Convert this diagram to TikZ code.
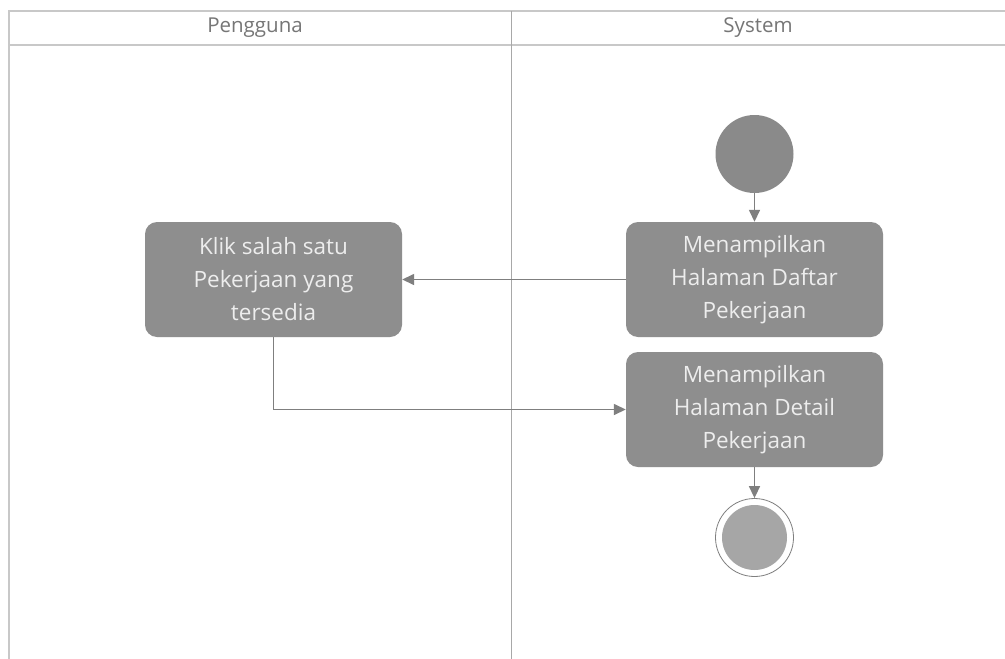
\documentclass[tikz,border=0pt]{standalone}
\usepackage{fontspec}
\setmainfont{Open Sans}
\usetikzlibrary{arrows.meta}
\definecolor{boxfill}{HTML}{8E8E8E}
\definecolor{startfill}{HTML}{8A8A8A}
\definecolor{endfill}{HTML}{A6A6A6}
\definecolor{linecol}{HTML}{7F7F7F}
\definecolor{frame}{HTML}{C8C8C8}
\definecolor{divcol}{HTML}{A8A8A8}
\definecolor{hdrtext}{HTML}{767676}
\definecolor{boxtext}{HTML}{EDEDED}
\tikzset{
  act/.style={draw=none, fill=boxfill, rounded corners=12pt, minimum width=257pt, minimum height=115pt,
    text=boxtext, align=center, font=\fontsize{22.5}{33}\selectfont, inner sep=0pt},
  flow/.style={draw=linecol, line width=1.5pt, -{Triangle[length=12pt,width=11pt]}},
  hdr/.style={text=hdrtext, font=\fontsize{20.5}{22}\selectfont, inner sep=0pt}
}
\begin{document}
\begin{tikzpicture}[x=1pt,y=-1pt]
\useasboundingbox (0,0) rectangle (1005,659);
\fill[white] (0,0) rectangle (1005,659);
% swimlane frame
\draw[frame, line width=2pt] (8.5,659) -- (8.5,11) -- (1005,11);
\draw[frame, line width=2.5pt] (8.5,45) -- (1005,45);
\draw[divcol, line width=1.6pt] (511.5,11) -- (511.5,659);
\node[hdr] (h1) at (255,28) {Pengguna};
\node[hdr] (h2) at (758,28) {System};
% nodes
\node[circle, fill=startfill, minimum size=78pt, inner sep=0pt] (start) at (754.5,154) {};
\node[act] (daftar) at (754.5,279.5) {Menampilkan\\Halaman Daftar\\Pekerjaan};
\node[act] (klik) at (273.5,279.5) {Klik salah satu\\Pekerjaan yang\\tersedia};
\node[act] (detail) at (754.5,409.5) {Menampilkan\\Halaman Detail\\Pekerjaan};
\node[circle, draw=linecol, line width=0.8pt, fill=white, minimum size=78pt, inner sep=0pt] (end) at (754.5,537.5) {};
\node[circle, fill=endfill, minimum size=65pt, inner sep=0pt] (endin) at (end.center) {};
% connectors
\draw[flow] (start) -- (daftar);
\draw[flow] (daftar) -- (klik);
\draw[flow] (klik.south) |- (detail.west);
\draw[flow] (detail) -- (end);
\end{tikzpicture}
\end{document}
